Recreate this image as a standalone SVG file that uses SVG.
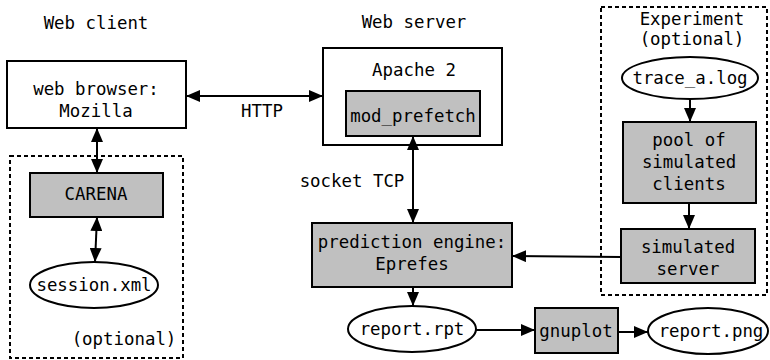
<svg xmlns="http://www.w3.org/2000/svg" width="770" height="360" viewBox="0 0 770 360">
  <style>
    text { font-family: "DejaVu Sans Mono", "Liberation Mono", monospace; font-size: 17.4px; fill: #000; text-anchor: middle; }
    .box { fill: #fff; stroke: #000; stroke-width: 2; }
    .gray { fill: #c0c0c0; stroke: #000; stroke-width: 2; }
    .group { fill: none; stroke: #000; stroke-width: 2; stroke-dasharray: 4 3; }
    .edge { fill: none; stroke: #000; stroke-width: 2; }
    .one { marker-end: url(#head); }
    .two { marker-start: url(#head); marker-end: url(#head); }
  </style>
  <defs>
    <marker id="head" markerUnits="userSpaceOnUse" markerWidth="14" markerHeight="12" refX="14" refY="6" orient="auto-start-reverse">
      <path d="M0,0 L14,6 L0,12 z" fill="#000"/>
    </marker>
  </defs>

  <!-- column headings -->
  <text x="96" y="29">Web client</text>
  <text x="414" y="28">Web server</text>

  <!-- dotted groupings -->
  <g id="client-optional">
    <rect class="group" x="10" y="156" width="173" height="202"/>
    <text x="124" y="345">(optional)</text>
  </g>
  <g id="experiment">
    <rect class="group" x="601" y="7" width="166" height="288"/>
    <text x="692" y="25">Experiment</text>
    <text x="692" y="45">(optional)</text>
  </g>

  <!-- nodes -->
  <g id="browser">
    <rect class="box" x="7" y="61" width="179" height="67"/>
    <text x="96" y="95">web browser:</text>
    <text x="96" y="117">Mozilla</text>
  </g>
  <g id="carena">
    <rect class="gray" x="30" y="173" width="133" height="44"/>
    <text x="96" y="200">CARENA</text>
  </g>
  <g id="session">
    <ellipse class="box" cx="94" cy="285" rx="64" ry="23"/>
    <text x="94" y="291">session.xml</text>
  </g>
  <g id="apache">
    <rect class="box" x="323" y="48" width="179" height="97"/>
    <text x="414" y="76">Apache 2</text>
  </g>
  <g id="mod-prefetch">
    <rect class="gray" x="346" y="91" width="134" height="45"/>
    <text x="413" y="122">mod_prefetch</text>
  </g>
  <g id="prediction-engine">
    <rect class="gray" x="312" y="223" width="200" height="64"/>
    <text x="412" y="248">prediction engine:</text>
    <text x="412" y="270">Eprefes</text>
  </g>
  <g id="report-rpt">
    <ellipse class="box" cx="412" cy="329" rx="64" ry="23"/>
    <text x="412" y="335">report.rpt</text>
  </g>
  <g id="gnuplot">
    <rect class="gray" x="535" y="308" width="83" height="45"/>
    <text x="576" y="337">gnuplot</text>
  </g>
  <g id="report-png">
    <ellipse class="box" cx="708" cy="331" rx="60" ry="23"/>
    <text x="711" y="337">report.png</text>
  </g>
  <g id="trace">
    <ellipse class="box" cx="690" cy="78" rx="68" ry="21"/>
    <text x="690" y="84">trace_a.log</text>
  </g>
  <g id="pool">
    <rect class="gray" x="623" y="122" width="133" height="81"/>
    <text x="689" y="146">pool of</text>
    <text x="689" y="168">simulated</text>
    <text x="689" y="190">clients</text>
  </g>
  <g id="sim-server">
    <rect class="gray" x="621" y="229" width="134" height="54"/>
    <text x="688" y="253">simulated</text>
    <text x="688" y="275">server</text>
  </g>

  <!-- connectors -->
  <g id="connectors">
    <line class="edge two" x1="186" y1="96" x2="323" y2="96"/>
    <text x="262" y="117">HTTP</text>
    <line class="edge two" x1="97" y1="128" x2="97" y2="173"/>
    <line class="edge two" x1="97" y1="217" x2="95" y2="262"/>
    <line class="edge two" x1="413" y1="136" x2="413" y2="223"/>
    <text x="352" y="187">socket TCP</text>
    <line class="edge one" x1="690" y1="99" x2="690" y2="122"/>
    <line class="edge one" x1="689" y1="203" x2="689" y2="229"/>
    <line class="edge one" x1="621" y1="257" x2="512" y2="256"/>
    <line class="edge one" x1="413" y1="287" x2="413" y2="306"/>
    <line class="edge one" x1="476" y1="330" x2="535" y2="330"/>
    <line class="edge one" x1="618" y1="332" x2="648" y2="332"/>
  </g>
</svg>
